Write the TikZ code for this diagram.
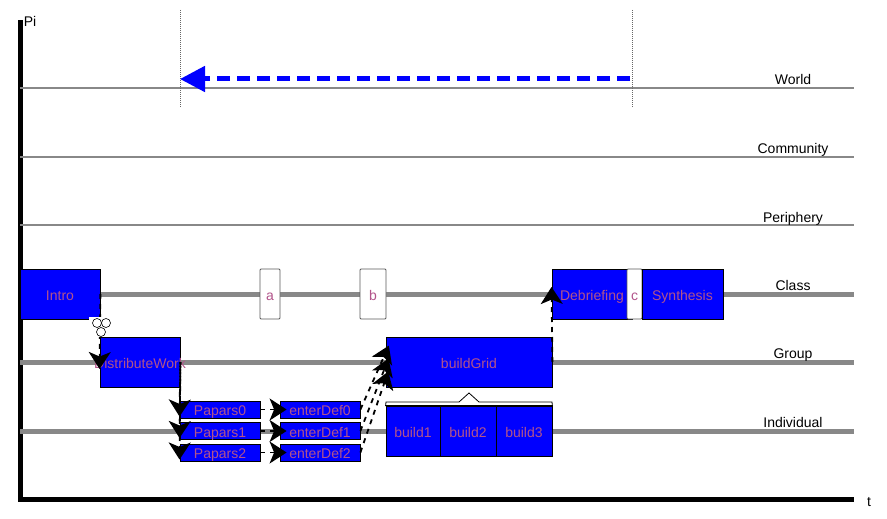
\documentclass[tikz,border=0pt]{standalone}
\usepackage{fontspec}
\setmainfont{Liberation Sans}
\usetikzlibrary{arrows.meta}
\definecolor{lbl}{RGB}{178,84,138}
\definecolor{lane}{RGB}{136,136,136}
\tikzset{
  act/.style={draw,line width=.8pt,fill=blue,text=lbl,inner sep=0pt,text height=12pt,text depth=0pt,minimum height=50pt},
  small/.style={act,minimum width=80pt,minimum height=17pt},
  gap/.style={draw=black!65,line width=.8pt,fill=white,text=lbl,rounded corners=1pt,inner sep=0pt,text height=12pt,text depth=0pt,minimum height=50pt},
  flow/.style={dash pattern=on 5pt off 5pt,line width=1.8pt,shorten >=-7pt,-{Stealth[length=17pt,width=22pt,inset=4.5pt]}},
  thinlane/.style={lane,line width=2.5pt},
  thicklane/.style={lane,line width=5pt},
  lab/.style={inner sep=0pt,text height=12pt,text depth=0pt},
  ring/.style={draw,circle,inner sep=0pt,minimum size=9pt,line width=.6pt}
}
\begin{document}
\begin{tikzpicture}[x=1pt,y=-1pt,font=\fontsize{14}{16}\selectfont]
\useasboundingbox (0,0) rectangle (887,519);

\coordinate (Top) at (20,20);
\coordinate (O) at (20,499.5);
\coordinate (End) at (854,499.5);
\coordinate (W0) at (20,88);
\coordinate (W1) at (854,88);
\coordinate (M0) at (20,157);
\coordinate (M1) at (854,157);
\coordinate (P0) at (20,225);
\coordinate (P1) at (854,225);
\coordinate (C0) at (20,294);
\coordinate (C1) at (854,294);
\coordinate (G0) at (20,362);
\coordinate (G1) at (854,362);
\coordinate (I0) at (20,431);
\coordinate (I1) at (854,431);

% axes
\draw[line width=5pt] (Top) -- (O) -- (End);
\node(Pi)[lab] at (30,21) {Pi};
\node(T)[lab] at (869,500) {t};

% lanes
\draw[thinlane] (W0) -- (W1);
\draw[thinlane] (M0) -- (M1);
\draw[thinlane] (P0) -- (P1);
\draw[thicklane] (C0) -- (C1);
\draw[thicklane] (G0) -- (G1);
\draw[thicklane] (I0) -- (I1);

\node(World)[lab] at (793,78.5) {World};
\node(Community)[lab] at (793,147.5) {Community};
\node(Periphery)[lab] at (793,216) {Periphery};
\node(Class)[lab] at (793,284.5) {Class};
\node(Group)[lab] at (793,352.5) {Group};
\node(Individual)[lab] at (793,421) {Individual};

% time span
\coordinate (A0) at (180,10);
\coordinate (A1) at (180,108);
\coordinate (B0) at (632,10);
\coordinate (B1) at (632,108);
\coordinate (S0) at (632,79);
\coordinate (S1) at (180,79);
\draw[densely dotted,black!60,line width=1pt] (A0) -- (A1);
\draw[densely dotted,black!60,line width=1pt] (B0) -- (B1);
\draw[blue,line width=5pt,dash pattern=on 13pt off 7pt,dash phase=18pt,-{Triangle[length=25pt,width=25pt]}] (S0) -- (S1);

% class
\node(Intro)[act,minimum width=80pt] at (60,294) {Intro};
\node(a)[gap,minimum width=20pt] at (270,294) {a};
\node(b)[gap,minimum width=26pt] at (373,294) {b};
\node(Debriefing)[act,minimum width=80pt] at (592,294) {Debriefing};
\node(c)[gap,minimum width=15pt] at (634.5,294) {c};
\node(Synthesis)[act,minimum width=81pt] at (682.5,294) {Synthesis};

% group
\node(DistributeWork)[act,minimum width=80pt] at (140,362) {\makebox[0pt]{DistributeWork}};
\node(buildGrid)[act,minimum width=166pt] at (469,362) {buildGrid};

% individual
\node(Papars0)[small] at (220,409.5) {Papars0};
\node(Papars1)[small] at (220,431) {Papars1};
\node(Papars2)[small] at (220,452.5) {Papars2};
\node(enterDef0)[small] at (320,409.5) {enterDef0};
\node(enterDef1)[small] at (320,431) {enterDef1};
\node(enterDef2)[small] at (320,452.5) {enterDef2};
\node(build1)[act,minimum width=54pt] at (413,431) {build1};
\node(build2)[act,minimum width=56pt] at (468,431) {build2};
\node(build3)[act,minimum width=56pt] at (524,431) {build3};

% brace over the builds
\draw[fill=white,line width=.8pt] (build1.north west) -- (386,402) -- (459,402) -- (469,393) -- (479,402) -- (552,402) -- (build3.north east) -- cycle;

\draw[flow] (Intro.east) -- (DistributeWork.west);

% split mark
\node(Patch)[fill=white,inner sep=0pt,minimum width=24pt,minimum height=20pt] at (101,327) {};
\node(Ring0)[ring] at (97,323) {};
\node(Ring1)[ring] at (106,323) {};
\node(Ring2)[ring] at (101,332) {};

\draw[flow] (DistributeWork.east) -- (Papars0.west);
\draw[flow,dash phase=3pt] (DistributeWork.east) -- (Papars1.west);
\draw[flow,dash phase=6pt] (DistributeWork.east) -- (Papars2.west);
\draw[flow] (Papars0.east) -- (enterDef0.west);
\draw[flow] (Papars1.east) -- (enterDef1.west);
\draw[flow] (Papars2.east) -- (enterDef2.west);

\coordinate (In0) at (386,352);
\coordinate (In1) at (386,365);
\coordinate (In2) at (386,378);
\draw[flow] (enterDef0.east) -- (In0);
\draw[flow] (enterDef1.east) -- (In1);
\draw[flow] (enterDef2.east) -- (In2);
\draw[flow] (buildGrid.east) -- (Debriefing.west);

\end{tikzpicture}
\end{document}
